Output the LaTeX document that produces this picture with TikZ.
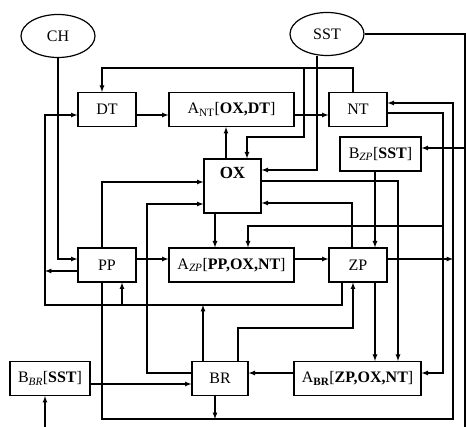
\documentclass[tikz,border=0pt]{standalone}
\usepackage{fontspec}
\setmainfont{Liberation Serif}
\usetikzlibrary{arrows}
\usetikzlibrary{shapes.geometric}

\begin{document}
\begin{tikzpicture}[x=1pt,y=-1pt,
  font=\fontsize{16}{18}\selectfont,
  box/.style={draw, line width=1.2, minimum height=34, inner sep=1},
  oval/.style={ellipse, draw, line width=1.2, minimum width=74, minimum height=43},
  flow/.style={-latex, line width=1.2}]
\useasboundingbox (0,0) rectangle (466,427);

\node[oval] (ch) at (58,36) {CH};
\node[oval] (sst) at (327,34) {SST};

\node[box, minimum width=58] (dt) at (107,109.5) {DT};
\node[box, minimum width=125] (ant) at (231.5,109.5) {A\textsubscript{NT}[\textbf{OX,DT}]};
\node[box, minimum width=58] (nt) at (358,109.5) {NT};
\node[box, minimum width=81] (bzp) at (380.5,154) {B\textsubscript{\itshape ZP}[\textbf{SST}]};
\node[box, minimum width=57, minimum height=54,
  label={[anchor=north, yshift=-5pt, font=\bfseries\fontsize{17}{19}\selectfont]north:OX}] (ox) at (232.5,186) {};
\node[box, minimum width=58] (pp) at (107,265) {PP};
\node[box, minimum width=125] (azp) at (231.5,265) {A\textsubscript{\itshape ZP}[\textbf{PP,OX,NT}]};
\node[box, minimum width=58] (zp) at (358,265) {ZP};
\node[box, minimum width=80] (bbr) at (50,378.5) {B\textsubscript{\itshape BR}[\textbf{SST}]};
\node[box, minimum width=56] (br) at (220,378.5) {BR};
\node[box, minimum width=127] (abr) at (357.5,378.5) {A\textsubscript{\bfseries BR}[\textbf{ZP,OX,NT}]};

% rows and columns of the wires
\coordinate (r1) at (0,115);
\coordinate (r3) at (0,259);
\coordinate (r4) at (0,373);
\coordinate (r5) at (0,384);
\coordinate (x1) at (215,0);
\coordinate (x2) at (226,0);
\coordinate (x3) at (203,0);
\coordinate (z1) at (375,0);

% NT -> DT, OX
\coordinate (a1) at (353,68);
\coordinate (a2) at (102,68);
\coordinate (a3) at (304,68);
\coordinate (a4) at (247,137);
\draw[flow] (nt.north -| a1) -- (a1) -- (a2) -- (dt.north -| a2);
\draw[flow] (a3) |- (a4) -- (ox.north -| a4);

\draw[flow] (dt.east |- r1) -- (ant.west |- r1);
\draw[flow] (ant.east |- r1) -- (nt.west |- r1);
\draw[flow] (ox.north -| x2) -- (ant.south -| x2);

% SST
\coordinate (s1) at (317,170);
\coordinate (s2) at (465,148);
\draw[flow] (sst.south -| s1) -- (s1) -- (ox.east |- s1);
\draw[flow] (sst.east) -| (s2) -- (bzp.east |- s2);
\draw[flow] (s2) -- ++(0,300) -| ([xshift=-5pt]bbr.south);

% NT -> A_ZP, A_BR
\coordinate (n1) at (443,113);
\coordinate (n2) at (443,226);
\coordinate (n3) at (443,373);
\draw[flow] (nt.east |- n1) -- (n1) -- (n3) -- (abr.east |- n3);
\draw[flow] (n2) -| ([xshift=16.5pt]azp.north);

% bottom bus -> NT
\coordinate (b1) at (102,419);
\coordinate (b2) at (453,419);
\coordinate (b3) at (453,103);
\draw[flow] (pp.south -| b1) -- (b1) -- (b2) -- (b3) -- (nt.east |- b3);
\draw[flow] ([xshift=-5pt]br.south) -- ([xshift=-5pt]br.south |- b1);
\draw[flow] (zp.east |- r3) -- (b2 |- r3);

% OX -> A_BR
\coordinate (o1) at (398,181);
\draw[flow] (ox.east |- o1) -| (abr.north -| o1);
\draw[flow] (bzp.south -| z1) -- (zp.north -| z1);
\draw[flow] (zp.south -| z1) -- (abr.north -| z1);

% ZP -> OX
\coordinate (z2) at (352,203);
\draw[flow] (zp.north -| z2) -- (z2) -- (ox.east |- z2);
\draw[flow] (ox.south -| x1) -- (azp.north -| x1);

% PP, BR -> OX
\coordinate (p1) at (102,182);
\coordinate (p2) at (147,204);
\draw[flow] (pp.north -| p1) -- (p1) -- (ox.west |- p1);
\draw[flow] (br.west |- r4) -| (p2) -- (ox.west |- p2);

\draw[flow] (ch.south) |- (pp.west |- r3);

% ZP, BR -> PP, DT
\coordinate (l1) at (45,271);
\coordinate (l2) at (45,305);
\coordinate (l3) at (342,305);
\coordinate (l4) at (122,305);
\draw[flow] (pp.west |- l1) -- (l1);
\draw[flow] (zp.south -| l3) -- (l3) -- (l2) |- (dt.west |- r1);
\draw[flow] (l4) -- (pp.south -| l4);
\draw[flow] (br.north -| x3) -- (l2 -| x3);

% BR -> ZP
\coordinate (q1) at (238,328);
\coordinate (q2) at (353,328);
\draw[flow] (br.north -| q1) -- (q1) -- (q2) -- (zp.south -| q2);

\draw[flow] (pp.east |- r3) -- (azp.west |- r3);
\draw[flow] (azp.east |- r3) -- (zp.west |- r3);
\draw[flow] (abr.west |- r4) -- (br.east |- r4);
\draw[flow] (bbr.east |- r5) -- (br.west |- r5);
\end{tikzpicture}
\end{document}
